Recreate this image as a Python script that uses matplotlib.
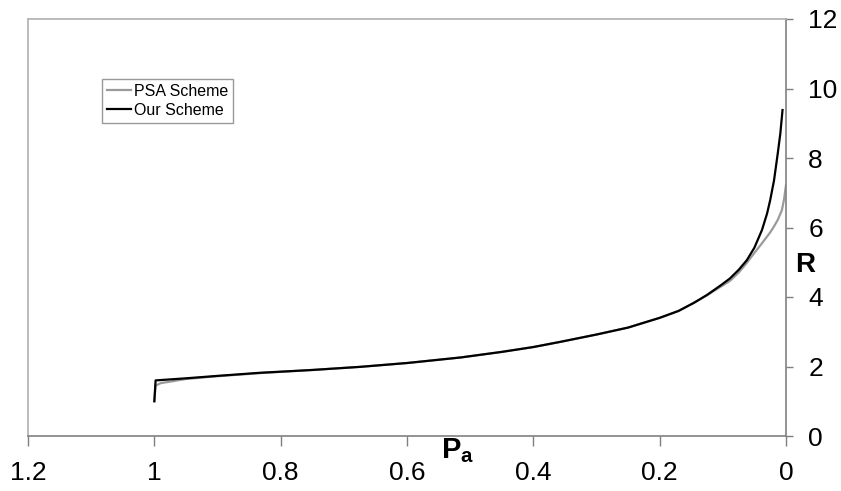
import matplotlib
matplotlib.use("Agg")
import matplotlib.pyplot as plt

plt.rcParams['font.family'] = ['Liberation Sans', 'DejaVu Sans']
plt.rcParams['mathtext.fontset'] = 'custom'
plt.rcParams['mathtext.rm'] = 'Liberation Sans'
plt.rcParams['mathtext.bf'] = 'Liberation Sans:bold'

# values
pa_ours = [1.0, 0.998, 0.95, 0.9, 0.832, 0.75, 0.674, 0.6, 0.515, 0.45, 0.4,
           0.357, 0.3, 0.25, 0.2, 0.17, 0.146, 0.125, 0.103, 0.089, 0.075,
           0.062, 0.05, 0.038, 0.03, 0.025, 0.019, 0.0133, 0.009, 0.0055]
r_ours = [1.0, 1.6, 1.66, 1.73, 1.82, 1.9, 1.99, 2.1, 2.26, 2.42, 2.56,
          2.71, 2.92, 3.12, 3.4, 3.6, 3.83, 4.06, 4.34, 4.53, 4.78,
          5.06, 5.42, 5.93, 6.4, 6.79, 7.35, 8.1, 8.7, 9.38]

pa_psa = [1.0, 0.998, 0.99, 0.95, 0.9, 0.832, 0.75, 0.674, 0.6, 0.515, 0.45,
          0.4, 0.357, 0.3, 0.25, 0.2, 0.17, 0.146, 0.125, 0.103, 0.089,
          0.075, 0.063, 0.05, 0.04, 0.03, 0.025, 0.02, 0.013, 0.0065,
          0.003, 0.0]
r_psa = [1.0, 1.45, 1.52, 1.64, 1.72, 1.81, 1.9, 1.99, 2.1, 2.26, 2.42,
         2.56, 2.71, 2.92, 3.12, 3.4, 3.6, 3.83, 4.05, 4.3, 4.46,
         4.7, 4.96, 5.27, 5.5, 5.74, 5.86, 6.0, 6.22, 6.5,
         6.82, 7.22]

x_ticks = [1.2, 1.0, 0.8, 0.6, 0.4, 0.2, 0.0]
x_tick_labels = ['1.2', '1', '0.8', '0.6', '0.4', '0.2', '0']
y_ticks = [0, 2, 4, 6, 8, 10, 12]

fig = plt.figure(figsize=(8.41, 4.91), dpi=100)
ax = fig.add_axes([28 / 841, 1 - 436 / 491, (786 - 28) / 841, (436 - 19) / 491])

ax.plot(pa_psa, r_psa, color='#9a9a9a', linewidth=1.6, label='PSA Scheme')
ax.plot(pa_ours, r_ours, color='black', linewidth=1.6, label='Our Scheme')

ax.set_xlim(1.2, 0)
ax.set_ylim(0, 12)
ax.set_xticks(x_ticks)
ax.set_xticklabels(x_tick_labels)
ax.set_yticks(y_ticks)

ax.yaxis.tick_right()
ax.tick_params(axis='both', direction='out', labelsize=19, colors='#7f7f7f',
               labelcolor='black', width=1)
ax.tick_params(axis='y', length=5, pad=11)
ax.tick_params(axis='x', length=7, pad=11)

for side in ['left', 'top']:
    ax.spines[side].set_color('#b0b0b0')
    ax.spines[side].set_linewidth(1.2)
for side in ['right', 'bottom']:
    ax.spines[side].set_color('#808080')
    ax.spines[side].set_linewidth(1.2)

fig.text(805 / 841, 1 - 265 / 491, 'R', fontsize=20, fontweight='bold',
         ha='center', va='center')
fig.text(458 / 841, 1 - 451 / 491, r'$\mathbf{P_a}$', fontsize=21,
         ha='center', va='center')

leg = ax.legend(loc='upper left', bbox_to_anchor=(102 / 841, 1 - 79 / 491),
                bbox_transform=fig.transFigure, fontsize=11.5, frameon=True,
                fancybox=False, borderaxespad=0, handlelength=1.5,
                handletextpad=0.2, borderpad=0.3, labelspacing=0.25)
leg.get_frame().set_edgecolor('#808080')
leg.get_frame().set_linewidth(1.0)

fig.savefig('out.png', dpi=100)
